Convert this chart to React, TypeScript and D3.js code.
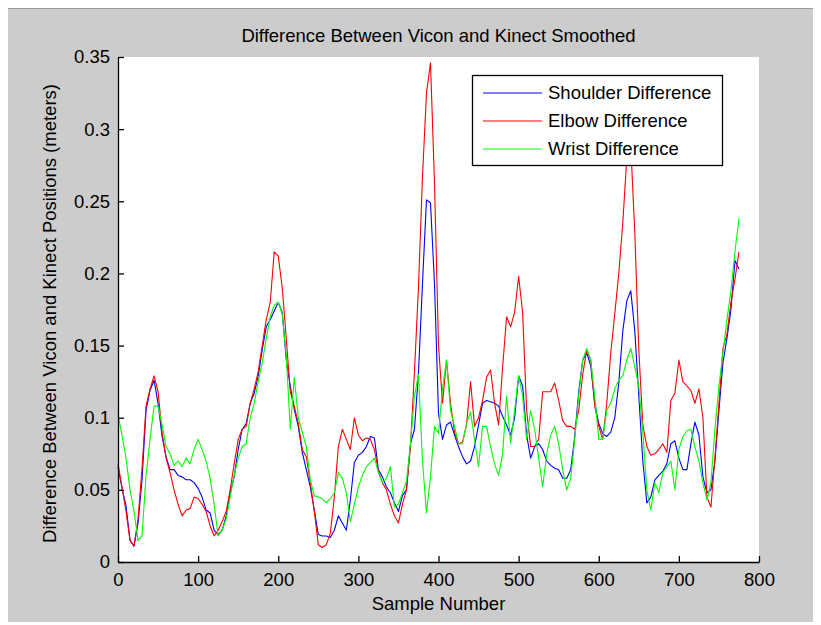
import React, { useEffect, useRef } from 'react';
import * as d3 from 'd3';

// sample index for every reading (every 5th sample)
const samples = d3.range(0, 776, 5);

const shoulderDiff = [
  0.066, 0.051, 0.039, 0.015, 0.011, 0.027, 0.057, 0.105, 0.119, 0.126,
  0.11, 0.087, 0.073, 0.064, 0.064, 0.06, 0.059, 0.057, 0.057, 0.055,
  0.051, 0.045, 0.036, 0.034, 0.022, 0.019, 0.022, 0.032, 0.048, 0.059,
  0.078, 0.092, 0.096, 0.11, 0.117, 0.129, 0.147, 0.163, 0.168, 0.174,
  0.18, 0.173, 0.14, 0.122, 0.106, 0.094, 0.076, 0.064, 0.052, 0.036,
  0.019, 0.018, 0.018, 0.017, 0.022, 0.032, 0.027, 0.022, 0.043, 0.069,
  0.074, 0.076, 0.08, 0.087, 0.086, 0.064, 0.059, 0.052, 0.048, 0.041,
  0.035, 0.046, 0.05, 0.082, 0.092, 0.131, 0.193, 0.251, 0.249, 0.193,
  0.103, 0.085, 0.095, 0.097, 0.088, 0.08, 0.073, 0.068, 0.07, 0.08,
  0.095, 0.11, 0.112, 0.111, 0.11, 0.108, 0.101, 0.095, 0.088, 0.1,
  0.129, 0.122, 0.088, 0.072, 0.08, 0.082, 0.078, 0.07, 0.067, 0.065,
  0.064, 0.058, 0.058, 0.064, 0.087, 0.118, 0.14, 0.145, 0.136, 0.11,
  0.096, 0.089, 0.087, 0.09, 0.1, 0.124, 0.16, 0.181, 0.188, 0.16,
  0.115, 0.07, 0.041, 0.045, 0.057, 0.06, 0.063, 0.068, 0.082, 0.084,
  0.072, 0.064, 0.064, 0.082, 0.097, 0.088, 0.059, 0.048, 0.05, 0.07,
  0.105, 0.138, 0.155, 0.175, 0.209, 0.203,
];

const elbowDiff = [
  0.068, 0.052, 0.035, 0.015, 0.011, 0.03, 0.065, 0.108, 0.12, 0.129,
  0.118, 0.09, 0.072, 0.062, 0.05, 0.04, 0.032, 0.036, 0.037, 0.045,
  0.044, 0.04, 0.035, 0.025, 0.018, 0.022, 0.028, 0.035, 0.05, 0.068,
  0.085, 0.092, 0.094, 0.11, 0.12, 0.132, 0.15, 0.168, 0.18, 0.215,
  0.212, 0.19, 0.155, 0.118, 0.108, 0.096, 0.078, 0.073, 0.055, 0.035,
  0.012, 0.01, 0.012, 0.02, 0.045, 0.08, 0.092, 0.085, 0.078, 0.1,
  0.088, 0.084, 0.086, 0.085, 0.078, 0.063, 0.055, 0.05, 0.04, 0.032,
  0.027, 0.04, 0.05, 0.08, 0.132, 0.19, 0.267, 0.325, 0.346, 0.263,
  0.15, 0.11, 0.14, 0.11, 0.09, 0.082, 0.083, 0.095, 0.125, 0.094,
  0.1, 0.112, 0.128, 0.133, 0.11, 0.095, 0.135, 0.17, 0.163, 0.173,
  0.198, 0.173, 0.105, 0.08, 0.08, 0.085, 0.118, 0.118, 0.118, 0.124,
  0.112, 0.098, 0.094, 0.094, 0.092, 0.105, 0.13, 0.147, 0.14, 0.108,
  0.094, 0.085, 0.11, 0.145, 0.172, 0.2, 0.235, 0.28, 0.288, 0.228,
  0.147, 0.095, 0.08, 0.074, 0.075, 0.078, 0.082, 0.076, 0.112, 0.117,
  0.14, 0.125, 0.122, 0.119, 0.11, 0.12, 0.1, 0.045, 0.038, 0.072,
  0.11, 0.148, 0.158, 0.18, 0.196, 0.215,
];

const wristDiff = [
  0.102, 0.088, 0.072, 0.05, 0.035, 0.015, 0.018, 0.06, 0.085, 0.108,
  0.108, 0.095, 0.08, 0.075, 0.067, 0.07, 0.066, 0.072, 0.068, 0.078,
  0.085, 0.078, 0.07, 0.058, 0.04, 0.018, 0.022, 0.03, 0.045, 0.06,
  0.072, 0.08, 0.082, 0.1, 0.11, 0.125, 0.138, 0.155, 0.17, 0.178,
  0.18, 0.172, 0.143, 0.092, 0.128, 0.1, 0.09, 0.08, 0.057, 0.046,
  0.045, 0.044, 0.041, 0.044, 0.048, 0.062, 0.058, 0.048, 0.028, 0.04,
  0.052, 0.06, 0.066, 0.069, 0.072, 0.062, 0.055, 0.058, 0.066, 0.038,
  0.04, 0.048, 0.056, 0.082, 0.115, 0.13, 0.07, 0.034, 0.059, 0.094,
  0.089, 0.12, 0.14, 0.105, 0.094, 0.082, 0.082, 0.096, 0.104, 0.085,
  0.066, 0.094, 0.094, 0.08, 0.068, 0.06, 0.075, 0.115, 0.082, 0.105,
  0.129, 0.115, 0.085, 0.105, 0.092, 0.072, 0.052, 0.075, 0.088, 0.094,
  0.082, 0.064, 0.05, 0.058, 0.085, 0.115, 0.14, 0.148, 0.14, 0.115,
  0.085, 0.085, 0.105, 0.11, 0.12, 0.126, 0.129, 0.14, 0.148, 0.135,
  0.122, 0.09, 0.05, 0.036, 0.055, 0.048, 0.062, 0.066, 0.07, 0.05,
  0.078, 0.087, 0.091, 0.092, 0.08, 0.07, 0.055, 0.043, 0.055, 0.092,
  0.122, 0.145, 0.168, 0.188, 0.215, 0.238,
];

const seriesNames = ['Shoulder Difference', 'Elbow Difference', 'Wrist Difference'];
const seriesColors = ['#0000ff', '#ff0000', '#00ff00'];
const xTicks = [0, 100, 200, 300, 400, 500, 600, 700, 800];
const yTicks = [0, 0.05, 0.1, 0.15, 0.2, 0.25, 0.3, 0.35];

const W = 821;
const H = 625;
const font = "'Liberation Sans', Arial, sans-serif";
const fs = 18.5;

export default function App() {
  const ref = useRef(null);

  useEffect(() => {
    const svg = d3.select(ref.current);
    svg.selectAll('*').remove();

    const left = 118, right = 759, top = 57, bottom = 562;
    const x = d3.scaleLinear().domain([0, 800]).range([left, right]);
    const y = d3.scaleLinear().domain([0, 0.35]).range([bottom, top]);

    // figure window
    svg.append('rect').attr('width', W).attr('height', H).attr('fill', '#ffffff');
    svg.append('rect').attr('x', 8).attr('y', 8).attr('width', 805).attr('height', 614).attr('fill', '#cccccc');
    svg.append('line').attr('x1', 8).attr('x2', 813).attr('y1', 8.5).attr('y2', 8.5).attr('stroke', '#9a9a9a');

    svg.append('rect')
      .attr('x', left).attr('y', top)
      .attr('width', right - left).attr('height', bottom - top)
      .attr('fill', '#ffffff');

    const series = [shoulderDiff, elbowDiff, wristDiff];
    const line = d3.line()
      .x((d) => x(d[0]))
      .y((d) => y(d[1]));

    series.forEach((vals, i) => {
      const pts = samples.slice(0, vals.length).map((s, j) => [s, vals[j]]);
      svg.append('path')
        .attr('fill', 'none')
        .attr('stroke', seriesColors[i])
        .attr('stroke-width', 1.1)
        .attr('stroke-linejoin', 'round')
        .attr('d', line(pts));
    });

    // axes, ticks pointing inwards
    const xAxis = d3.axisBottom(x).tickValues(xTicks).tickSizeInner(-6).tickSizeOuter(0).tickPadding(11).tickFormat(d3.format('d'));
    const yAxis = d3.axisLeft(y).tickValues(yTicks).tickSizeInner(-6).tickSizeOuter(0).tickPadding(8).tickFormat((d) => String(+d.toFixed(2)));

    svg.append('g')
      .attr('transform', `translate(0,${bottom})`)
      .call(xAxis)
      .call((g) => g.selectAll('path, line').attr('stroke', '#000').attr('stroke-width', 1.3))
      .call((g) => g.selectAll('text').attr('font-family', font).attr('font-size', fs).attr('fill', '#000'));

    svg.append('g')
      .attr('transform', `translate(${left},0)`)
      .call(yAxis)
      .call((g) => g.selectAll('path, line').attr('stroke', '#000').attr('stroke-width', 1.3))
      .call((g) => g.selectAll('text').attr('font-family', font).attr('font-size', fs).attr('fill', '#000'));

    svg.append('text')
      .attr('x', (left + right) / 2).attr('y', 42)
      .attr('text-anchor', 'middle')
      .attr('font-family', font).attr('font-size', fs)
      .text('Difference Between Vicon and Kinect Smoothed');

    svg.append('text')
      .attr('x', (left + right) / 2).attr('y', 610)
      .attr('text-anchor', 'middle')
      .attr('font-family', font).attr('font-size', fs)
      .text('Sample Number');

    svg.append('text')
      .attr('transform', `translate(56,${(top + bottom) / 2 + 4}) rotate(-90)`)
      .attr('text-anchor', 'middle')
      .attr('font-family', font).attr('font-size', fs)
      .text('Difference Between Vicon and Kinect Positions (meters)');

    // legend
    const lg = svg.append('g');
    lg.append('rect')
      .attr('x', 472.5).attr('y', 75.5).attr('width', 250).attr('height', 90)
      .attr('fill', '#ffffff').attr('stroke', '#000').attr('stroke-width', 1.3);
    seriesNames.forEach((name, i) => {
      const cy = 93 + i * 28;
      lg.append('line')
        .attr('x1', 483).attr('x2', 542).attr('y1', cy).attr('y2', cy)
        .attr('stroke', seriesColors[i]).attr('stroke-width', 1.2);
      lg.append('text')
        .attr('x', 548).attr('y', cy + 6)
        .attr('font-family', font).attr('font-size', fs)
        .text(name);
    });
  }, []);

  return (
    <svg
      ref={ref}
      width={W}
      height={H}
      style={{ position: 'absolute', left: 0, top: 0 }}
    />
  );
}
